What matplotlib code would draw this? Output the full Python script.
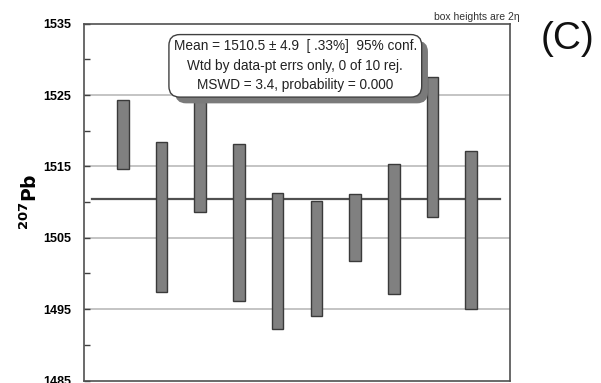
import matplotlib
matplotlib.use("Agg")
import matplotlib.pyplot as plt
import matplotlib.patheffects as pe
import numpy as np

plt.rcParams['font.family'] = ['Liberation Sans', 'DejaVu Sans']

# 207Pb/206Pb ages per analysis: lower and upper ends of the 2-sigma boxes
analysis = [1, 2, 3, 4, 5, 6, 7, 8, 9, 10]
box_low = [1514.7, 1497.4, 1508.6, 1496.1, 1492.2, 1494.1, 1501.8, 1497.1, 1507.9, 1495.0]
box_high = [1524.3, 1518.4, 1531.0, 1518.2, 1511.3, 1510.2, 1511.1, 1515.4, 1527.6, 1517.2]
weighted_mean = 1510.5

y_major = [1485, 1495, 1505, 1515, 1525, 1535]
y_minor = [1490, 1500, 1510, 1520, 1530]

stats_text = ("Mean = 1510.5 \u00b1 4.9  [ .33%]  95% conf.\n"
              "Wtd by data-pt errs only, 0 of 10 rej.\n"
              "MSWD = 3.4, probability = 0.000")

fig = plt.figure(figsize=(6.01, 3.83), dpi=100)
ax = fig.add_axes([0.1398, 0.0065, 0.7088, 0.9315])

ax.set_xlim(0, 11)
ax.set_ylim(1485, 1535)

# horizontal grid at the labelled ages
for v in y_major[1:-1]:
    ax.axhline(v, color='#b4b4b4', lw=1.1, zorder=1)

# weighted mean line
ax.plot([0.2, 10.75], [weighted_mean, weighted_mean], color='#505050', lw=1.6, zorder=2)

# error boxes
heights = np.array(box_high) - np.array(box_low)
ax.bar(analysis, heights, bottom=box_low, width=0.3, color='#808080',
       edgecolor='#3a3a3a', linewidth=1.0, zorder=3)

ax.set_xticks([])
ax.set_yticks(y_major)
ax.set_yticks(y_minor, minor=True)
ax.set_yticklabels([str(v) for v in y_major], fontsize=9, fontweight='bold')
ax.tick_params(axis='y', which='both', direction='in', length=4, width=1,
               color='#404040', pad=9)

for s in ax.spines.values():
    s.set_color('#505050')
    s.set_linewidth(1.2)

ax.set_ylabel(r'$^{\mathbf{207}}\mathbf{Pb}$', fontsize=13.5, labelpad=2)

# statistics box with drop shadow
t = ax.text(0.496, 0.882, stats_text, transform=ax.transAxes, ha='center',
            va='center', fontsize=9.8, linespacing=1.5, color='#222222', zorder=10,
            bbox=dict(boxstyle='round,pad=0.35,rounding_size=0.8', fc='white',
                      ec='#404040', lw=1.0))
t.get_bbox_patch().set_path_effects([
    pe.SimplePatchShadow(offset=(4.5, -4.5), shadow_rgbFace='#7a7a7a', alpha=1.0),
    pe.Normal()])

fig.text(520 / 601, 1 - 17 / 383, 'box heights are 2\u03b7', ha='right',
         va='center', fontsize=7.5, color='#333333')
fig.text(567.5 / 601, 1 - 39 / 383, '(C)', ha='center', va='center',
         fontsize=28, color='#111111')

fig.savefig('out.png', dpi=100)
